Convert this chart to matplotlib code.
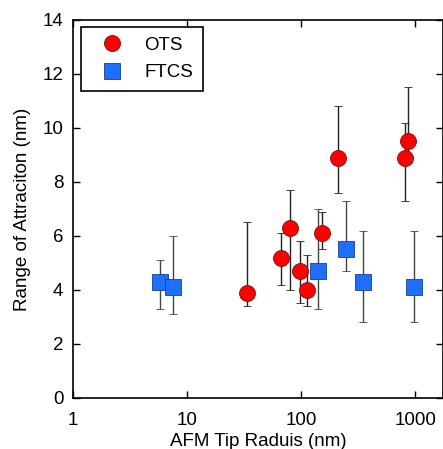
import numpy as np
import matplotlib.pyplot as plt
from matplotlib.lines import Line2D

# OTS data: tip radius (nm), range of attraction (nm), error bars
ots_radius = [33.5, 66, 80, 97, 112, 153, 211, 808, 865]
ots_range = [3.9, 5.2, 6.3, 4.7, 4.0, 6.1, 8.9, 8.9, 9.5]
ots_err_low = [0.5, 1.0, 2.3, 1.2, 0.6, 0.6, 1.3, 1.6, 0.6]
ots_err_high = [2.6, 0.9, 1.4, 1.1, 1.3, 0.8, 1.9, 1.3, 2.0]

# FTCS data
ftcs_radius = [5.8, 7.5, 139, 248, 347, 976]
ftcs_range = [4.3, 4.1, 4.7, 5.5, 4.3, 4.1]
ftcs_err_low = [1.0, 1.0, 1.4, 0.8, 1.5, 1.3]
ftcs_err_high = [0.8, 1.9, 2.3, 1.8, 1.9, 2.1]

x_ticks = [1, 10, 100, 1000]
x_tick_labels = ["1", "10", "100", "1000"]
y_ticks = [0, 2, 4, 6, 8, 10, 12, 14]

OTS_STYLE = dict(marker='o', color='#ff0000', markeredgecolor='#7a1010',
                 markeredgewidth=0.6, markersize=11.5)
FTCS_STYLE = dict(marker='s', color='#1f6fff', markeredgecolor='#1a3f8a',
                  markeredgewidth=0.6, markersize=11)


def main():
    plt.rcParams['font.family'] = ['Liberation Sans', 'DejaVu Sans']
    fig = plt.figure(figsize=(4.43, 4.49), dpi=100)
    ax = fig.add_axes([0.165, 0.1136, 0.835, 0.842])

    ax.errorbar(ots_radius, ots_range, yerr=[ots_err_low, ots_err_high],
                linestyle='none', ecolor='#222222', elinewidth=1.0,
                capsize=3, capthick=1.0, zorder=3, **OTS_STYLE)
    ax.errorbar(ftcs_radius, ftcs_range, yerr=[ftcs_err_low, ftcs_err_high],
                linestyle='none', ecolor='#444444', elinewidth=1.0,
                capsize=3, capthick=1.0, zorder=3, **FTCS_STYLE)

    ax.set_xscale('log')
    ax.set_xlim(1, 1750)
    ax.set_ylim(0, 14)
    ax.set_xticks(x_ticks)
    ax.set_xticklabels(x_tick_labels)
    ax.set_yticks(y_ticks)
    ax.xaxis.set_minor_locator(plt.NullLocator())
    ax.tick_params(which='both', direction='in', top=True, right=True,
                   length=5, width=1, labelsize=13.5)
    ax.tick_params(axis='x', pad=10)
    ax.tick_params(axis='y', pad=7)
    for spine in ax.spines.values():
        spine.set_linewidth(1.2)

    ax.set_xlabel("AFM Tip Raduis (nm)", fontsize=13.5, labelpad=3)
    ax.set_ylabel("Range of Attraciton (nm)", fontsize=13.5, labelpad=8)

    handles = [Line2D([], [], linestyle='none', **OTS_STYLE),
               Line2D([], [], linestyle='none', **FTCS_STYLE)]
    leg = ax.legend(handles, ['OTS', 'FTCS'], loc='upper left', fontsize=13.5,
                    frameon=True, fancybox=False, edgecolor='black',
                    borderpad=0.5, handlelength=2.4, handletextpad=0.5,
                    labelspacing=0.55, borderaxespad=0.4)
    leg.get_frame().set_linewidth(1.2)
    leg.get_frame().set_alpha(1)

    fig.savefig("out.png", dpi=100)


if __name__ == '__main__':
    main()
